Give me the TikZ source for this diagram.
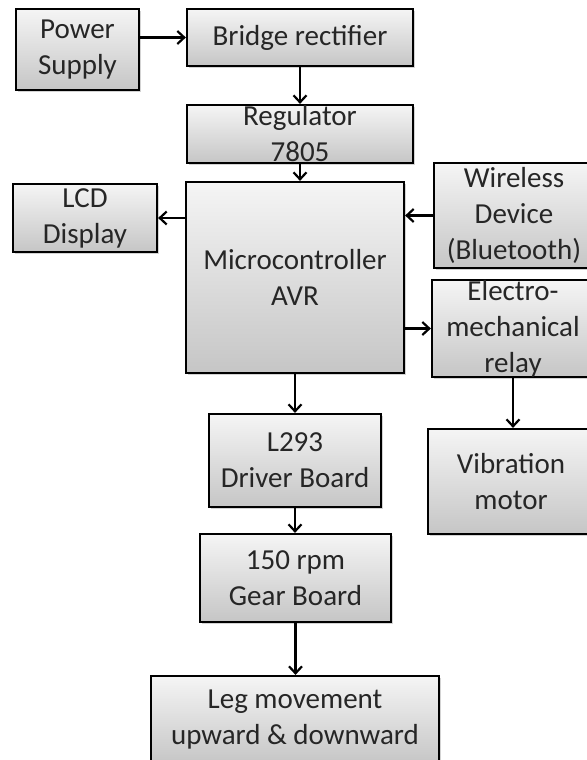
\documentclass[tikz,border=0pt]{standalone}
\usepackage{fontspec}
\setmainfont{Carlito}
\usetikzlibrary{arrows.meta,shadows}

\tikzset{
  blk/.style={draw=black, line width=1.1pt, top color=gray!8, bottom color=gray!45,
    align=center, inner sep=0pt, text=black!85,
    font=\fontsize{14.5}{18}\selectfont,
    drop shadow={shadow xshift=1pt, shadow yshift=-1pt, opacity=0.35}},
  arr/.style={line width=1.1pt, -{Straight Barb[length=3.5pt,width=6.5pt]}}
}

\begin{document}
\begin{tikzpicture}[x=0.5pt,y=-0.5pt]
    \useasboundingbox (0,0) rectangle (586,760);
    % power side
    \node[blk, minimum width=61.5pt, minimum height=40.5pt] (power) at (77.5,49.5) {Power\\Supply};
    \node[blk, minimum width=113pt, minimum height=28.5pt] (bridge) at (300,37.5) {Bridge rectifier};
    \node[blk, minimum width=113pt, minimum height=29pt] (reg) at (300,134) {Regulator\\7805};
    % controller and peripherals
    \node[blk, minimum width=109pt, minimum height=95.5pt] (micro) at (295,277.5) {Microcontroller\\AVR};
    \node[blk, minimum width=72pt, minimum height=34pt] (lcd) at (85,218) {LCD\\Display};
    \node[blk, minimum width=80pt, minimum height=52.5pt] (wireless) at (514,215.5) {Wireless\\Device\\(Bluetooth)};
    \node[blk, minimum width=81pt, minimum height=48.5pt] (relay) at (513,328.5) {Electro-\\mechanical\\relay};
    \node[blk, minimum width=83pt, minimum height=52.5pt] (vib) at (511,481.5) {Vibration\\motor};
    % drive chain
    \node[blk, minimum width=86pt, minimum height=46.5pt] (driver) at (295,460.5) {L293\\Driver Board};
    \node[blk, minimum width=95.5pt, minimum height=44pt] (gear) at (295.5,578) {150 rpm\\Gear Board};
    \node[blk, minimum width=144pt, minimum height=44pt] (leg) at (295,720) {Leg movement\\upward \& downward};

    \draw[arr] (power.east |- bridge.west) -- (bridge.west);
    \draw[arr] (bridge) -- (reg);
    \draw[arr] (reg.south) -- (reg.south |- micro.north);
    \draw[arr] (micro.west |- lcd) -- (lcd.east);
    \draw[arr] (wireless.west) -- (wireless.west -| micro.east);
    \draw[arr] (micro.east |- relay.west) -- (relay.west);
    \draw[arr] (relay) -- (relay |- vib.north);
    \draw[arr] (micro) -- (micro |- driver.north);
    \draw[arr] (driver.south) -- (driver.south |- gear.north);
    \draw[arr] (gear.south) -- (gear.south |- leg.north);
\end{tikzpicture}
\end{document}
